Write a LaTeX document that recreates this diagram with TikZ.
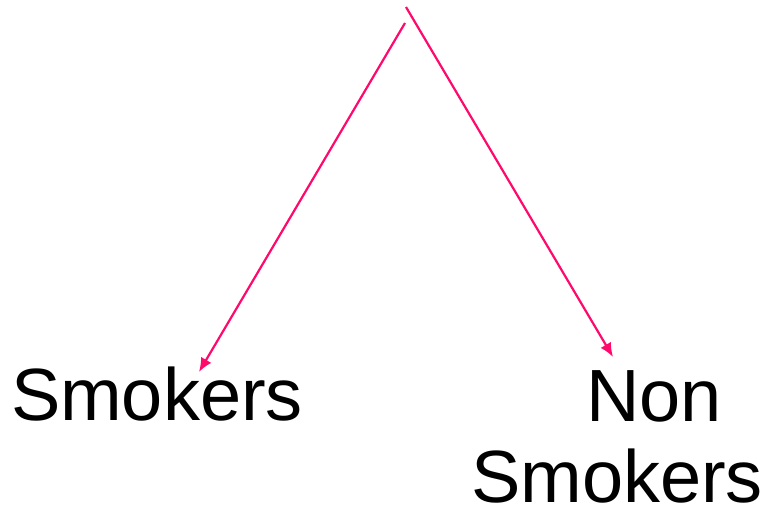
\documentclass[tikz,border=0pt]{standalone}
\usepackage{fontspec}
\setmainfont{Liberation Sans}
\usetikzlibrary{arrows.meta}
\definecolor{branch}{HTML}{FF0A6C}
\begin{document}
\begin{tikzpicture}[x=1pt,y=-1pt,
  label/.style={inner sep=0pt,outer sep=0pt,anchor=base west,font=\fontsize{74}{81}\selectfont},
  branchline/.style={draw=branch,line width=2.2pt,-{Latex[length=14pt,width=12pt]}}]
  \useasboundingbox (0,0) rectangle (769,517);
  % labels
  \node[label] (smokers) at (11,420) {Smokers};
  \node[label] (non) at (586,421) {Non};
  \node[label] (nonsmokers) at (471,502) {Smokers};
  % branch ends
  \coordinate (lstart) at (405,23);
  \coordinate (rstart) at (406,7);
  \coordinate (ltip) at (199,372);
  \coordinate (rtip) at (613,357);
  \draw[branchline] (lstart) -- (ltip);
  \draw[branchline] (rstart) -- (rtip);
\end{tikzpicture}
\end{document}
